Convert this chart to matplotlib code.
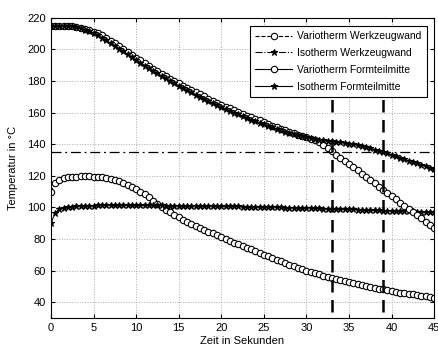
import matplotlib.pyplot as plt
import numpy as np

plt.rcParams['font.family'] = ['Liberation Sans', 'DejaVu Sans']

# time axis in seconds (one sample every 0.5 s)
zeit = np.arange(0, 45.5, 0.5)

vario_wand = [110, 115.5, 117.5, 118.5, 119, 119.3, 119.5, 119.6, 119.6, 119.6,
              119.5, 119.3, 119, 118.6, 118, 117.3, 116.4, 115.4, 114.3, 113,
              111.6, 110, 108.3, 106.3, 104.2, 102.2, 100.3, 98.5, 96.8, 95.2,
              93.7, 92.3, 91, 89.7, 88.4, 87.1, 85.9, 84.7, 83.5, 82.2,
              81, 79.9, 78.8, 77.7, 76.6, 75.5, 74.5, 73.4, 72.3, 71.2,
              70.1, 69, 67.9, 66.8, 65.8, 64.8, 63.8, 62.8, 61.8, 60.9,
              60, 59.1, 58.3, 57.5, 56.7, 55.9, 55.2, 54.5, 53.8, 53.1,
              52.5, 51.9, 51.3, 50.7, 50.1, 49.6, 49.1, 48.6, 48.1, 47.6,
              47.1, 46.6, 46.1, 45.7, 45.3, 44.9, 44.5, 44.1, 43.7, 43.3, 42.9]

iso_wand = [90, 96.5, 98.8, 99.7, 100.2, 100.5, 100.7, 100.9, 101, 101.1,
            101.1, 101.2, 101.2, 101.2, 101.2, 101.2, 101.2, 101.2, 101.2, 101.2,
            101.2, 101.2, 101.2, 101.2, 101.2, 101.2, 101.2, 101.1, 101.1, 101.1,
            101.1, 101.1, 101, 101, 101, 101, 100.9, 100.9, 100.9, 100.8,
            100.8, 100.7, 100.7, 100.6, 100.6, 100.5, 100.5, 100.4, 100.4, 100.3,
            100.3, 100.2, 100.1, 100, 100, 99.9, 99.8, 99.8, 99.7, 99.6,
            99.6, 99.5, 99.4, 99.3, 99.2, 99.1, 99, 98.9, 98.9, 98.8,
            98.8, 98.7, 98.6, 98.5, 98.4, 98.3, 98.2, 98.1, 98, 97.9,
            97.9, 97.8, 97.7, 97.6, 97.5, 97.4, 97.3, 97.2, 97.1, 97.1, 97]

vario_mitte = [215, 215, 215, 215, 214.8, 214.6, 214.2, 213.6, 213, 212.1,
               211.2, 210.1, 208.8, 207.2, 205.5, 203.8, 202, 200.2, 198.4, 196.6,
               194.8, 193, 191.3, 189.6, 187.9, 186.3, 184.7, 183.1, 181.5, 180,
               178.5, 177.1, 175.7, 174.3, 172.9, 171.5, 170.2, 168.9, 167.6, 166.3,
               165, 163.8, 162.6, 161.4, 160.3, 159.2, 158.1, 157, 156, 155,
               154, 152.9, 151.8, 150.8, 149.8, 148.8, 147.8, 146.9, 146, 145.2,
               144.4, 143.5, 142.5, 141.3, 139.5, 137.6, 135.5, 133.4, 131.4, 129.4,
               127.4, 125.4, 123.4, 121.4, 119.4, 117.3, 115.2, 113.1, 111, 109,
               107, 105, 103, 101, 99, 97, 95, 93, 91, 89, 87]

iso_mitte = [215, 215, 215, 215, 214.8, 214.5, 214, 213.3, 212.5, 211.4,
             210.2, 208.8, 207.3, 205.7, 204, 202.3, 200.5, 198.7, 196.9, 195.1,
             193.3, 191.5, 189.8, 188.1, 186.4, 184.8, 183.2, 181.6, 180, 178.5,
             177, 175.6, 174.2, 172.8, 171.4, 170, 168.7, 167.4, 166.1, 164.8,
             163.5, 162.3, 161.1, 159.9, 158.8, 157.7, 156.6, 155.5, 154.5, 153.5,
             152.5, 151.5, 150.6, 149.7, 148.8, 148, 147.2, 146.4, 145.7, 145,
             144.4, 143.8, 143.3, 142.8, 142.4, 142, 141.7, 141.4, 141.1, 140.8,
             140.4, 140, 139.5, 138.9, 138.2, 137.4, 136.6, 135.8, 135, 134.1,
             133.2, 132.3, 131.4, 130.5, 129.6, 128.7, 127.8, 126.9, 126, 125.1, 124.2]

grenz_temp = 135
zeit_marken = [33, 39]

fig = plt.figure(figsize=(4.39, 3.49), dpi=100)
ax = fig.add_axes([0.116, 0.089, 0.873, 0.86])

ms = 4.6
ax.plot(zeit, vario_wand, '--o', color='k', mfc='white', ms=ms, lw=0.8, mew=0.8,
        label='Variotherm Werkzeugwand')
ax.plot(zeit, iso_wand, '-.*', color='k', ms=ms, lw=0.8, mew=0.8,
        label='Isotherm Werkzeugwand')
ax.plot(zeit, vario_mitte, '-o', color='k', mfc='white', ms=ms, lw=0.8, mew=0.8,
        label='Variotherm Formteilmitte')
ax.plot(zeit, iso_mitte, '-*', color='k', ms=ms, lw=0.8, mew=0.8,
        label='Isotherm Formteilmitte')

ax.axhline(grenz_temp, color='k', ls='-.', lw=0.9, dashes=(8, 3, 1.5, 3))
for xm in zeit_marken:
    ax.axvline(xm, ymin=0.02, ymax=0.73, color='k', ls='--', lw=1.8, dashes=(5, 3))

ax.set_xlim(0, 45)
ax.set_ylim(30, 220)
ax.set_xticks(np.arange(0, 46, 5))
ax.set_yticks(np.arange(40, 221, 20))
ax.grid(True, ls=':', color='#aaaaaa', lw=0.7)
ax.tick_params(direction='in', top=True, right=True, labelsize=8, length=3)
for s in ax.spines.values():
    s.set_linewidth(0.8)

ax.set_xlabel('Zeit in Sekunden', fontsize=8, labelpad=2)
ax.set_ylabel('Temperatur in °C', fontsize=8, labelpad=7)

leg = ax.legend(loc='upper right', fontsize=7.5, fancybox=False, framealpha=1,
                edgecolor='k', handlelength=3.6, borderpad=0.5, labelspacing=0.65,
                handletextpad=0.5, bbox_to_anchor=(0.995, 0.99))
leg.get_frame().set_linewidth(0.8)

fig.savefig('out.png', dpi=100)
